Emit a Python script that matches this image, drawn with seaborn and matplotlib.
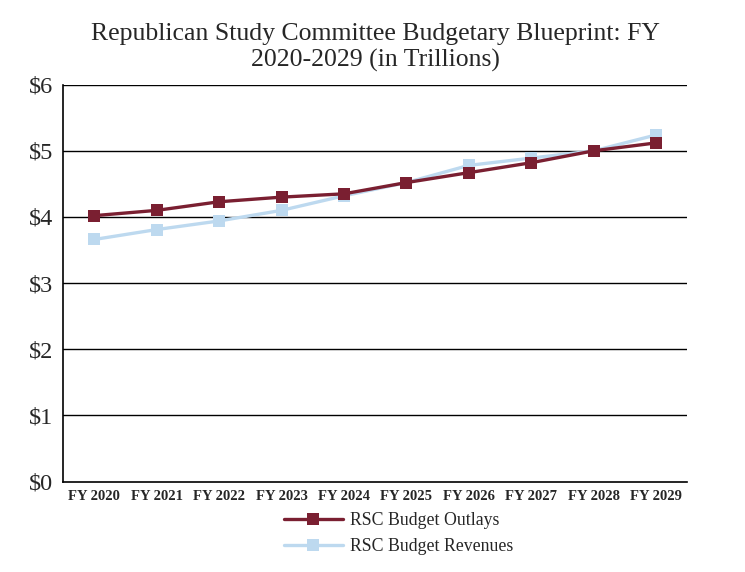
import matplotlib
matplotlib.use("Agg")
import matplotlib.pyplot as plt
import seaborn as sns
import pandas as pd

years = ["FY 2020", "FY 2021", "FY 2022", "FY 2023", "FY 2024",
         "FY 2025", "FY 2026", "FY 2027", "FY 2028", "FY 2029"]
outlays = [4.02, 4.10, 4.23, 4.30, 4.35, 4.52, 4.67, 4.82, 5.00, 5.12]
revenues = [3.66, 3.81, 3.94, 4.10, 4.32, 4.52, 4.78, 4.89, 5.00, 5.24]
y_ticks = [0, 1, 2, 3, 4, 5, 6]
y_labels = ["$0", "$1", "$2", "$3", "$4", "$5", "$6"]
series_names = ["RSC Budget Outlays", "RSC Budget Revenues"]
colors = {"RSC Budget Outlays": "#7a1f31", "RSC Budget Revenues": "#bdd9ef"}

sns.set_theme(style="white")
plt.rcParams["font.family"] = ["Liberation Serif", "DejaVu Serif"]

df = pd.DataFrame({
    "year": years * 2,
    "value": outlays + revenues,
    "series": [series_names[0]] * len(years) + [series_names[1]] * len(years),
})

fig = plt.figure(figsize=(7.45, 5.72), dpi=100)
ax = fig.add_axes([0.0846, 0.158, 0.838, 0.694])

# draw revenues first so outlays sit on top
for name, z in [(series_names[1], 2), (series_names[0], 3)]:
    sub = df[df["series"] == name]
    sns.lineplot(data=sub, x="year", y="value", ax=ax, color=colors[name],
                 marker="s", markersize=9, markeredgewidth=0, linewidth=2.4,
                 label=name, zorder=z, sort=False)

ax.set_xlim(-0.5, len(years) - 0.5)
ax.set_ylim(0, 6)
ax.set_yticks(y_ticks)
ax.set_yticklabels(y_labels, fontsize=17.5)
ax.set_xticks(range(len(years)))
ax.set_xticklabels(years, fontsize=10.5, fontweight="semibold")
ax.tick_params(axis="x", length=0, pad=6)
ax.tick_params(axis="y", length=0, pad=7)
ax.set_xlabel("")
ax.set_ylabel("")
for yv in y_ticks[1:]:
    ax.axhline(yv, color="black", linewidth=1.0, zorder=1)
for s in ["top", "right"]:
    ax.spines[s].set_visible(False)
for s in ["left", "bottom"]:
    ax.spines[s].set_color("black")
    ax.spines[s].set_linewidth(1.2)

ax.set_title("Republican Study Committee Budgetary Blueprint: FY\n2020-2029 (in Trillions)",
             fontsize=18.5, pad=13, linespacing=1.25)

handles, labels = ax.get_legend_handles_labels()
order = [labels.index(n) for n in series_names]
ax.get_legend().remove()
fig.legend([handles[i] for i in order], [labels[i] for i in order],
           loc="upper center", bbox_to_anchor=(0.535, 0.133), frameon=False,
           fontsize=12.8, handlelength=3.3, handletextpad=0.4, labelspacing=0.5)

fig.savefig("out.png", dpi=100)
